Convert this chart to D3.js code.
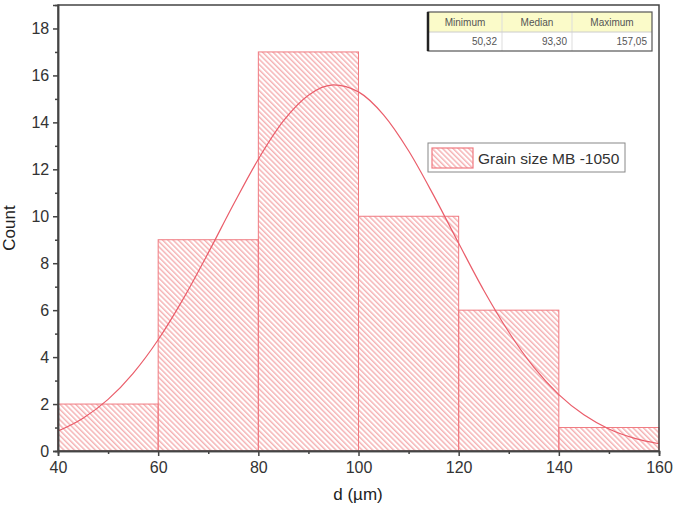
<!DOCTYPE html>
<html><head><meta charset="utf-8">
<script src="https://cdn.jsdelivr.net/npm/d3@7"></script>
<style>body{margin:0;background:#fff;}svg{display:block;font-family:Arial,"Liberation Sans",sans-serif;}</style>
</head><body>
<script>
const binStarts = [40, 60, 80, 100, 120, 140];
const binEnds   = [60, 80, 100, 120, 140, 160];
const counts    = [2, 9, 17, 10, 6, 1];
const curveX = [40,45,50,55,60,65,70,75,80,85,90,95,100,105,110,115,120,125,130,135,140,145,150,155,160];
const curveY = [0.85,1.40,2.20,3.31,4.74,6.48,8.44,10.49,12.43,14.06,15.16,15.60,15.30,14.32,12.79,10.89,8.85,6.85,5.07,3.57,2.40,1.54,0.94,0.55,0.31];
const xTicks = [40,60,80,100,120,140,160];
const yTicks = [0,2,4,6,8,10,12,14,16,18];
const statHeaders = ["Minimum","Median","Maximum"];
const statValues = ["50,32","93,30","157,05"];
const seriesName = "Grain size MB -1050";

const W=685,H=518, L=58,R=659,T=5,B=451;
const svg=d3.select("body").append("svg").attr("width",W).attr("height",H);
const x=d3.scaleLinear().domain([40,160]).range([L,R]);
const y=d3.scaleLinear().domain([0,19]).range([B,T]);

const defs=svg.append("defs");
const pat=defs.append("pattern").attr("id","hatch").attr("patternUnits","userSpaceOnUse")
  .attr("width",3.7).attr("height",3.7).attr("patternTransform","rotate(-45)");
pat.append("line").attr("x1",0.8).attr("y1",0).attr("x2",0.8).attr("y2",3.7)
  .attr("stroke","#f08c90").attr("stroke-width",1);

const data=counts.map((c,i)=>({x0:binStarts[i],x1:binEnds[i],c}));
svg.selectAll("rect.bar").data(data).enter().append("rect").attr("class","bar")
  .attr("x",d=>x(d.x0)).attr("y",d=>y(d.c)).attr("width",d=>x(d.x1)-x(d.x0)).attr("height",d=>y(0)-y(d.c))
  .attr("fill","url(#hatch)").attr("stroke","#f07a80").attr("stroke-width",1);

const line=d3.line().x((d,i)=>x(curveX[i])).y(d=>y(d)).curve(d3.curveMonotoneX);
svg.append("path").attr("d",line(curveY)).attr("fill","none").attr("stroke","#ea5d6a").attr("stroke-width",1.2);

// frame
svg.append("rect").attr("x",L).attr("y",T).attr("width",R-L).attr("height",B-T)
  .attr("fill","none").attr("stroke","#444").attr("stroke-width",1.5);

const xAxis=svg.append("g").attr("transform",`translate(0,${B})`)
  .call(d3.axisBottom(x).tickValues(xTicks).tickSize(5).tickFormat(d3.format("d")));
svg.append("g").attr("transform",`translate(0,${B})`)
  .call(d3.axisBottom(x).tickValues(d3.range(50,160,20)).tickSize(3).tickFormat(""));
const yAxis=svg.append("g").attr("transform",`translate(${L},0)`)
  .call(d3.axisLeft(y).tickValues(yTicks).tickSize(5).tickFormat(d3.format("d")));
svg.append("g").attr("transform",`translate(${L},0)`)
  .call(d3.axisLeft(y).tickValues(d3.range(1,19,2)).tickSize(3).tickFormat(""));
svg.selectAll(".domain").attr("stroke","#444").attr("stroke-width",1.5);
svg.selectAll(".tick line").attr("stroke","#444").attr("stroke-width",1.5);
xAxis.selectAll("text").attr("font-size",16).attr("fill","#333").attr("dy","0.85em");
yAxis.selectAll("text").attr("font-size",16).attr("fill","#333").attr("dx","-0.05em");

svg.append("text").attr("x",358).attr("y",500).attr("text-anchor","middle").attr("font-size",17).attr("fill","#222").text("d (\u00b5m)");
svg.append("text").attr("transform","translate(15,228) rotate(-90)").attr("text-anchor","middle").attr("font-size",17).attr("fill","#222").text("Count");

// legend
const lg=svg.append("g");
lg.append("rect").attr("x",428).attr("y",143).attr("width",197).attr("height",29).attr("fill","#fff").attr("stroke","#888").attr("stroke-width",1);
lg.append("rect").attr("x",432).attr("y",148).attr("width",41).attr("height",20).attr("fill","url(#hatch)").attr("stroke","#f07a80").attr("stroke-width",1.2);
lg.append("text").attr("x",478).attr("y",164).attr("font-size",15.5).attr("fill","#333").text(seriesName);

// stats table
const tb=svg.append("g");
const tx=428, ty=12, colW=[74,70,80], rh=[20,19];
tb.append("rect").attr("x",tx).attr("y",ty).attr("width",d3.sum(colW)).attr("height",rh[0]).attr("fill","#fbfbc9");
tb.append("rect").attr("x",tx).attr("y",ty+rh[0]).attr("width",d3.sum(colW)).attr("height",rh[1]).attr("fill","#fff");
let cx=tx;
colW.forEach((w,i)=>{
  tb.append("text").attr("x",cx+w/2).attr("y",ty+14).attr("text-anchor","middle").attr("font-size",10).attr("fill","#555").text(statHeaders[i]);
  tb.append("text").attr("x",cx+w-5).attr("y",ty+rh[0]+13).attr("text-anchor","end").attr("font-size",10).attr("fill","#555").text(statValues[i]);
  if(i>0) tb.append("line").attr("x1",cx).attr("x2",cx).attr("y1",ty).attr("y2",ty+rh[0]+rh[1]).attr("stroke","#ddd");
  cx+=w;
});
tb.append("line").attr("x1",tx).attr("x2",tx+d3.sum(colW)).attr("y1",ty+rh[0]).attr("y2",ty+rh[0]).attr("stroke","#ccc");
tb.append("rect").attr("x",tx).attr("y",ty).attr("width",d3.sum(colW)).attr("height",rh[0]+rh[1]).attr("fill","none").attr("stroke","#555").attr("stroke-width",1.2);
tb.append("line").attr("x1",tx).attr("x2",tx).attr("y1",ty).attr("y2",ty+rh[0]+rh[1]).attr("stroke","#222").attr("stroke-width",2.5);
</script>
</body></html>
